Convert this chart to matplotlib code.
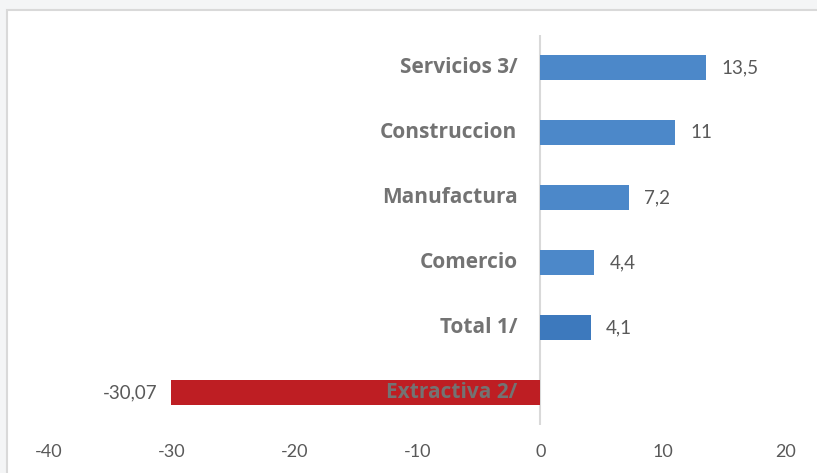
import matplotlib
matplotlib.use("Agg")
import matplotlib.pyplot as plt
from matplotlib.patches import Rectangle

categories = ["Extractiva 2/", "Total 1/", "Comercio", "Manufactura", "Construccion", "Servicios 3/"]
values = [-30.07, 4.1, 4.4, 7.2, 11, 13.5]
value_labels = ["-30,07", "4,1", "4,4", "7,2", "11", "13,5"]
colors = ["#BE1E23", "#3D79BD", "#4C88C9", "#4C88C9", "#4C88C9", "#4C88C9"]
xticks = [-40, -30, -20, -10, 0, 10, 20]

plt.rcParams['font.family'] = ['Lato', 'DejaVu Sans']
fig = plt.figure(figsize=(8.17, 4.73), dpi=100)
fig.patch.set_facecolor("#f4f5f6")

bg = fig.add_axes([0, 0, 1, 1], zorder=-5)
bg.set_axis_off()
bg.set_xlim(0, 1)
bg.set_ylim(0, 1)
bg.add_patch(Rectangle((7/817, -0.01), 1.0, 1.01 - 10/473, facecolor="white",
                       edgecolor="#d9d9d9", linewidth=1.5))

ax = fig.add_axes([49/817, 48/473, 737/817, 390/473], zorder=1)
ax.set_facecolor("none")
ypos = list(range(len(categories)))
ax.barh(ypos, values, height=0.37, color=colors, zorder=2)
ax.set_xlim(-40, 20)
ax.set_ylim(-0.5, len(categories) - 0.5)
ax.axvline(0, color="#d9d9d9", linewidth=1.5, zorder=1)

for y, v, lab in zip(ypos, values, value_labels):
    if v >= 0:
        ax.annotate(lab, (v, y), xytext=(11, 0), textcoords="offset points",
                    ha="left", va="center", fontsize=13.5, color="#595959")
    else:
        ax.annotate(lab, (v, y), xytext=(-10, 0), textcoords="offset points",
                    ha="right", va="center", fontsize=13.5, color="#595959")

for y, cat in zip(ypos, categories):
    ax.annotate(cat, (0, y), xytext=(-16.5, 0), textcoords="offset points",
                ha="right", va="center", fontsize=15, fontweight="bold", color="#737373",
                family=["Open Sans", "DejaVu Sans"], zorder=3)

ax.set_xticks(xticks)
ax.set_xticklabels([str(t) for t in xticks], fontsize=13, color="#595959")
ax.set_yticks([])
ax.tick_params(axis="x", length=0, pad=14)
for s in ax.spines.values():
    s.set_visible(False)

fig.savefig("out.png", dpi=100, facecolor=fig.get_facecolor())
